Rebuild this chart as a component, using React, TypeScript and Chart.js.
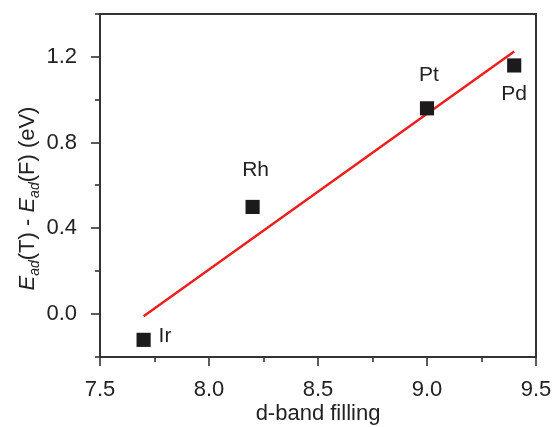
import React, { useEffect, useRef } from "react";
import { Chart, registerables } from "chart.js";

Chart.register(...registerables);

// ---- data ----
const metals = ["Ir", "Rh", "Pt", "Pd"];
const dBandFilling = [7.7, 8.2, 9.0, 9.4];
const energyDiff = [-0.12, 0.5, 0.96, 1.16];
const fitX = [7.7, 9.4];
const fitY = [-0.01, 1.225];
const xTickValues = [7.5, 8.0, 8.5, 9.0, 9.5];
const xMinorTickValues = [7.75, 8.25, 8.75, 9.25];
const yTickValues = [0.0, 0.4, 0.8, 1.2];
const yMinorTickValues = [-0.2, 0.2, 0.6, 1.0, 1.4];
const xAxisTitle = "d-band filling";

// ---- styles ----
const FONT = "'Liberation Sans', Arial, Helvetica, sans-serif";
const TEXT_COLOR = "#222";
const AXIS_COLOR = "#333";
const labelOffsets: Record<string, { dx: number; dy: number; align: CanvasTextAlign }> = {
  Ir: { dx: 15, dy: -4, align: "left" },
  Rh: { dx: 3, dy: -37, align: "center" },
  Pt: { dx: 2, dy: -33, align: "center" },
  Pd: { dx: 0, dy: 29, align: "center" },
};

const framePlugin = {
  id: "frameTicks",
  afterDraw(chart: any) {
    const { ctx, scales } = chart;
    const left = Math.round(scales.x.getPixelForValue(7.5));
    const right = Math.round(scales.x.getPixelForValue(9.5));
    const top = Math.round(scales.y.getPixelForValue(1.4));
    const bottom = Math.round(scales.y.getPixelForValue(-0.2));
    ctx.save();
    ctx.fillStyle = AXIS_COLOR;
    // frame as filled bars (2px wide)
    ctx.fillRect(left - 1, top - 1, right - left + 2, 2);
    ctx.fillRect(left - 1, bottom - 1, right - left + 2, 2);
    ctx.fillRect(left - 1, top - 1, 2, bottom - top + 2);
    ctx.fillRect(right - 1, top - 1, 2, bottom - top + 2);
    // ticks
    xTickValues.forEach((v) => {
      const x = Math.round(scales.x.getPixelForValue(v));
      ctx.fillRect(x - 0.8, bottom, 1.6, 9);
    });
    xMinorTickValues.forEach((v) => {
      const x = Math.round(scales.x.getPixelForValue(v));
      ctx.fillRect(x - 0.8, bottom, 1.6, 5);
    });
    yTickValues.forEach((v) => {
      const y = Math.round(scales.y.getPixelForValue(v));
      ctx.fillRect(left - 9, y - 0.8, 9, 1.6);
    });
    yMinorTickValues.forEach((v) => {
      const y = Math.round(scales.y.getPixelForValue(v));
      ctx.fillRect(left - 5, y - 0.8, 5, 1.6);
    });

    // point labels
    ctx.fillStyle = TEXT_COLOR;
    ctx.font = `21px ${FONT}`;
    ctx.textBaseline = "middle";
    metals.forEach((m, i) => {
      const px = scales.x.getPixelForValue(dBandFilling[i]);
      const py = scales.y.getPixelForValue(energyDiff[i]);
      const o = labelOffsets[m];
      ctx.textAlign = o.align;
      ctx.fillText(m, px + o.dx, py + o.dy);
    });

    // y-axis title with italic E and subscript "ad"
    const parts: { t: string; font: string; dy: number }[] = [
      { t: "E", font: `italic 22px ${FONT}`, dy: 0 },
      { t: "ad", font: `italic 14px ${FONT}`, dy: 5 },
      { t: "(T) - ", font: `22px ${FONT}`, dy: 0 },
      { t: "E", font: `italic 22px ${FONT}`, dy: 0 },
      { t: "ad", font: `italic 14px ${FONT}`, dy: 5 },
      { t: "(F) (eV)", font: `22px ${FONT}`, dy: 0 },
    ];
    let total = 0;
    parts.forEach((p) => {
      ctx.font = p.font;
      total += ctx.measureText(p.t).width;
    });
    const cy = (top + bottom) / 2 + 13;
    const baseX = 34;
    ctx.translate(baseX, cy);
    ctx.rotate(-Math.PI / 2);
    ctx.textAlign = "left";
    ctx.textBaseline = "alphabetic";
    let cx = -total / 2;
    parts.forEach((p) => {
      ctx.font = p.font;
      ctx.fillText(p.t, cx, p.dy);
      cx += ctx.measureText(p.t).width;
    });
    ctx.restore();
  },
};

const zeroPadding = (s: any) => {
  s.paddingTop = 0;
  s.paddingBottom = 0;
  s.paddingLeft = 0;
  s.paddingRight = 0;
};

export default function App() {
  const ref = useRef<HTMLCanvasElement | null>(null);
  useEffect(() => {
    if (!ref.current) return;
    const chart = new Chart(ref.current, {
      type: "scatter",
      data: {
        datasets: [
          {
            type: "line",
            data: fitX.map((x, i) => ({ x, y: fitY[i] })),
            borderColor: "#ee1c1c",
            borderWidth: 2.4,
            pointRadius: 0,
            fill: false,
            order: 2,
          } as any,
          {
            type: "scatter",
            data: dBandFilling.map((x, i) => ({ x, y: energyDiff[i] })),
            pointStyle: "rect",
            pointRadius: 10,
            pointBackgroundColor: "#1c1a1a",
            pointBorderWidth: 0,
            borderWidth: 0,
            order: 1,
          } as any,
        ],
      },
      options: {
        animation: false,
        responsive: false,
        maintainAspectRatio: false,
        layout: { autoPadding: false, padding: { top: 14, right: 17, left: 0, bottom: 0 } },
        plugins: { legend: { display: false }, tooltip: { enabled: false } },
        scales: {
          x: {
            type: "linear",
            min: 7.5,
            max: 9.5,
            afterBuildTicks: (s: any) => {
              s.ticks = xTickValues.map((v) => ({ value: v }));
            },
            afterFit: (s: any) => {
              s.height = 70;
              zeroPadding(s);
            },
            grid: { display: false },
            border: { display: false },
            ticks: {
              padding: 12,
              color: TEXT_COLOR,
              font: { family: FONT, size: 22 },
              callback: (v: any) => Number(v).toFixed(1),
            },
            title: {
              display: true,
              text: xAxisTitle,
              color: TEXT_COLOR,
              font: { family: FONT, size: 22 },
              padding: { top: 0, bottom: 0 },
            },
          },
          y: {
            type: "linear",
            min: -0.2,
            max: 1.4,
            afterBuildTicks: (s: any) => {
              s.ticks = yTickValues.map((v) => ({ value: v }));
            },
            afterFit: (s: any) => {
              s.width = 100;
              zeroPadding(s);
            },
            grid: { display: false },
            border: { display: false },
            ticks: {
              padding: 15,
              color: TEXT_COLOR,
              font: { family: FONT, size: 22 },
              callback: (v: any) => Number(v).toFixed(1),
            },
          },
        },
      },
      plugins: [framePlugin],
    } as any);
    return () => chart.destroy();
  }, []);
  return (
    <div style={{ position: "fixed", left: 0, top: 0, width: 553, height: 427, background: "#fff" }}>
      <canvas ref={ref} width={553} height={427} style={{ display: "block" }} />
    </div>
  );
}
